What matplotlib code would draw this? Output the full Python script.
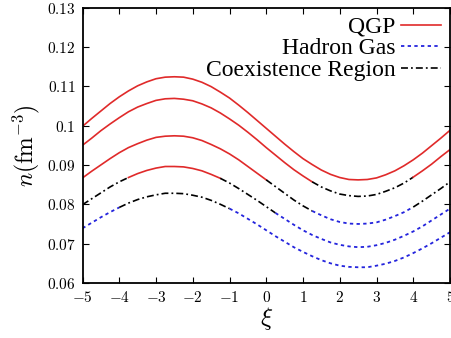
import numpy as np
import matplotlib
matplotlib.use("Agg")
import matplotlib.pyplot as plt
from matplotlib.lines import Line2D
from matplotlib.ticker import FuncFormatter

plt.rcParams["mathtext.fontset"] = "cm"
plt.rcParams["lines.scale_dashes"] = False

# ---- data ----
xi = np.linspace(-5, 5, 41)  # sampling grid, step 0.25

n_A = [0.0998, 0.1018, 0.1037, 0.1056, 0.1073, 0.1088, 0.1101, 0.1111, 0.1119, 0.1123,
       0.1124, 0.1123, 0.1118, 0.1110, 0.1099, 0.1085, 0.1070, 0.1052, 0.1033, 0.1013,
       0.0993, 0.0973, 0.0953, 0.0934, 0.0916, 0.0901, 0.0887, 0.0876, 0.0868, 0.0863,
       0.0862, 0.0863, 0.0867, 0.0875, 0.0885, 0.0898, 0.0913, 0.0930, 0.0949, 0.0968,
       0.0988]
n_B = [0.0950, 0.0968, 0.0987, 0.1004, 0.1020, 0.1035, 0.1047, 0.1056, 0.1064, 0.1068,
       0.1069, 0.1067, 0.1063, 0.1055, 0.1045, 0.1032, 0.1017, 0.1001, 0.0983, 0.0964,
       0.0944, 0.0925, 0.0906, 0.0888, 0.0872, 0.0857, 0.0844, 0.0834, 0.0826, 0.0822,
       0.0820, 0.0821, 0.0825, 0.0833, 0.0842, 0.0854, 0.0869, 0.0885, 0.0902, 0.0921,
       0.0939]
n_C = [0.0867, 0.0884, 0.0900, 0.0916, 0.0931, 0.0944, 0.0954, 0.0963, 0.0970, 0.0973,
       0.0974, 0.0973, 0.0969, 0.0962, 0.0952, 0.0941, 0.0928, 0.0913, 0.0896, 0.0879,
       0.0862, 0.0845, 0.0828, 0.0811, 0.0796, 0.0783, 0.0772, 0.0762, 0.0755, 0.0751,
       0.0750, 0.0751, 0.0754, 0.0761, 0.0770, 0.0780, 0.0793, 0.0808, 0.0824, 0.0840,
       0.0857]
n_D = [0.0799, 0.0814, 0.0829, 0.0844, 0.0857, 0.0868, 0.0878, 0.0886, 0.0892, 0.0896,
       0.0896, 0.0895, 0.0891, 0.0885, 0.0876, 0.0866, 0.0854, 0.0840, 0.0825, 0.0810,
       0.0794, 0.0778, 0.0763, 0.0748, 0.0734, 0.0722, 0.0712, 0.0703, 0.0697, 0.0693,
       0.0691, 0.0692, 0.0696, 0.0702, 0.0710, 0.0720, 0.0731, 0.0744, 0.0759, 0.0774,
       0.0789]
n_E = [0.0739, 0.0753, 0.0767, 0.0780, 0.0792, 0.0803, 0.0812, 0.0819, 0.0824, 0.0828,
       0.0828, 0.0827, 0.0823, 0.0818, 0.0810, 0.0800, 0.0789, 0.0777, 0.0763, 0.0749,
       0.0734, 0.0719, 0.0705, 0.0691, 0.0679, 0.0668, 0.0658, 0.0650, 0.0644, 0.0641,
       0.0640, 0.0640, 0.0644, 0.0649, 0.0656, 0.0665, 0.0676, 0.0688, 0.0701, 0.0715,
       0.0729]

# phase segments along xi for each curve: (phase, xi_start, xi_end)
phases_A = [("QGP", -5, 5)]
phases_B = [("QGP", -5, 1.25), ("COEX", 1.25, 4.0), ("QGP", 4.0, 5)]
phases_C = [("QGP", -5, 0.0), ("COEX", 0.0, 1.25), ("HG", 1.25, 4.0), ("COEX", 4.0, 5)]
phases_D = [("COEX", -5, -3.75), ("QGP", -3.75, -1.25), ("COEX", -1.25, 0.25), ("HG", 0.25, 5)]
phases_E = [("HG", -5, -4.0), ("COEX", -4.0, -1.0), ("HG", -1.0, 5)]

legend_labels = ["QGP", "Hadron Gas", "Coexistence Region"]
xticks = [-5, -4, -3, -2, -1, 0, 1, 2, 3, 4, 5]
yticks = [0.06, 0.07, 0.08, 0.09, 0.10, 0.11, 0.12, 0.13]

# ---- styles ----
RED = "#e02a2a"
BLUE = "#2424dd"
styles = {
    "QGP": dict(color=RED, lw=1.2, linestyle="-"),
    "HG": dict(color=BLUE, lw=1.3, linestyle=(0, (2.4, 2.4))),
    "COEX": dict(color="black", lw=1.2, linestyle=(0, (5.0, 2.2, 1.3, 2.2))),
}

fig = plt.figure(figsize=(4.51, 3.38), dpi=100)
ax = fig.add_axes([82.5 / 451, 1 - 283 / 338, 367.5 / 451, 275.5 / 338])

curves = [(n_A, phases_A), (n_B, phases_B), (n_C, phases_C), (n_D, phases_D), (n_E, phases_E)]
xi_arr = np.asarray(xi)
for n, phases in curves:
    n = np.asarray(n)
    for ph, a, b in phases:
        m = (xi_arr >= a - 1e-9) & (xi_arr <= b + 1e-9)
        ax.plot(xi_arr[m], n[m], **styles[ph])

ax.set_xlim(-5, 5)
ax.set_ylim(0.06, 0.13)
ax.set_xticks(xticks)
ax.set_yticks(yticks)
ax.xaxis.set_major_formatter(FuncFormatter(lambda v, p: f"${v:g}$"))
ax.yaxis.set_major_formatter(FuncFormatter(lambda v, p: f"${v:.2f}$".replace("0.10", "0.1")))
ax.tick_params(direction="in", length=4, width=0.8, top=True, right=True,
               labelsize=11, pad=5)
for s in ax.spines.values():
    s.set_linewidth(1.3)

ax.set_xlabel(r"$\xi$", fontsize=18, labelpad=0)
ax.set_ylabel(r"$n(\mathrm{fm}^{-3})$", fontsize=17, labelpad=3)

handles = [Line2D([], [], **styles["QGP"]), Line2D([], [], **styles["HG"]),
           Line2D([], [], **styles["COEX"])]
leg = ax.legend(handles, legend_labels, loc="upper right", frameon=False,
                markerfirst=False, handlelength=1.7, handletextpad=0.25,
                labelspacing=0.0, borderaxespad=0.15, borderpad=0.22,
                alignment="right",
                prop={"family": "Liberation Serif", "size": 17})
for t in leg.get_texts():
    t.set_ha("right")

fig.savefig("out.png", dpi=100)
